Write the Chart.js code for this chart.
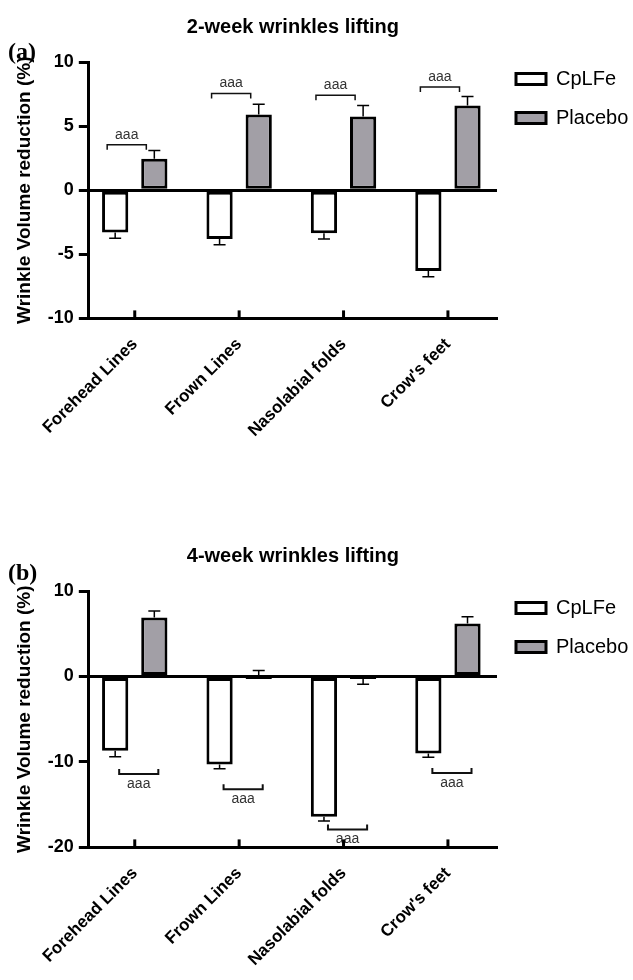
<!DOCTYPE html>
<html>
<head>
<meta charset="utf-8">
<script src="https://cdn.jsdelivr.net/npm/chart.js@4.4.1/dist/chart.umd.min.js"></script>
<style>
  body { margin: 0; background: #fff; }
  #wrap { position: relative; width: 633px; height: 980px; overflow: hidden; }
  .box { position: absolute; left: 0; width: 633px; height: 451px; }
  .tag { position: absolute; left: 8px; font: bold 24px "Liberation Serif", serif; line-height: 24px; color: #000; }
</style>
</head>
<body>
<div id="wrap">
  <div class="box" style="top:0"><canvas id="chartA"></canvas></div>
  <div class="tag" style="top:39px">(a)</div>
  <div class="box" style="top:529px"><canvas id="chartB"></canvas></div>
  <div class="tag" style="top:560px">(b)</div>
</div>
<script>
var categories = ['Forehead Lines', 'Frown Lines', 'Nasolabial folds', "Crow's feet"];
var seriesNames = ['CpLFe', 'Placebo'];

// 2-week (errors are signed: direction the error bar is drawn)
var cplfe2 = [-3.3, -3.8, -3.35, -6.3];
var cplfe2Err = [-0.45, -0.45, -0.45, -0.45];
var placebo2 = [2.45, 5.9, 5.75, 6.6];
var placebo2Err = [0.65, 0.8, 0.85, 0.7];
var sig2Labels = ['aaa', 'aaa', 'aaa', 'aaa'];
var sig2Levels = [3.55, 7.55, 7.4, 8.05];
var ticks2 = [-10, -5, 0, 5, 10];

// 4-week
var cplfe4 = [-8.7, -10.3, -16.4, -9.0];
var cplfe4Err = [-0.7, -0.5, -0.5, -0.45];
var placebo4 = [6.9, -0.3, -0.3, 6.2];
var placebo4Err = [0.75, 1.0, -0.6, 0.8];
var sig4Labels = ['aaa', 'aaa', 'aaa', 'aaa'];
var sig4Levels = [-11.4, -13.2, -17.9, -11.3];
var ticks4 = [-20, -10, 0, 10];

function points(values) {
  return values.map(function(v, i) { return { x: i, y: v }; });
}

var errorBars = {
  id: 'errorBars',
  afterDatasetsDraw: function(chart) {
    var ctx = chart.ctx;
    var y = chart.scales.y;
    ctx.save();
    ctx.strokeStyle = '#000';
    ctx.lineWidth = 1.5;
    chart.data.datasets.forEach(function(ds, di) {
      chart.getDatasetMeta(di).data.forEach(function(bar, i) {
        var v = ds.data[i].y;
        var y0 = y.getPixelForValue(v);
        var y1 = y.getPixelForValue(v + ds.errors[i]);
        ctx.beginPath();
        ctx.moveTo(bar.x, y0);
        ctx.lineTo(bar.x, y1);
        ctx.moveTo(bar.x - 6, y1);
        ctx.lineTo(bar.x + 6, y1);
        ctx.stroke();
      });
    });
    ctx.restore();
  }
};

var brackets = {
  id: 'brackets',
  afterDatasetsDraw: function(chart, args, opts) {
    var ctx = chart.ctx;
    var y = chart.scales.y;
    var a = chart.getDatasetMeta(0).data;
    var b = chart.getDatasetMeta(1).data;
    ctx.save();
    ctx.strokeStyle = '#111';
    ctx.lineWidth = opts.lineWidth;
    ctx.fillStyle = '#333';
    ctx.font = '14px "Liberation Sans", Arial, sans-serif';
    ctx.textAlign = 'center';
    ctx.textBaseline = 'middle';
    opts.levels.forEach(function(level, i) {
      var x0 = a[i].x + opts.shift;
      var x1 = b[i].x + opts.shift;
      var py = y.getPixelForValue(level);
      var dir = level > 0 ? 1 : -1;
      ctx.beginPath();
      ctx.moveTo(x0, py + 5 * dir);
      ctx.lineTo(x0, py);
      ctx.lineTo(x1, py);
      ctx.lineTo(x1, py + 5 * dir);
      ctx.stroke();
      ctx.fillText(opts.labels[i], (x0 + x1) / 2, py - 10 * dir);
    });
    ctx.restore();
  }
};

var innerTicks = {
  id: 'innerTicks',
  afterDraw: function(chart) {
    var ctx = chart.ctx;
    var x = chart.scales.x;
    var bottom = chart.chartArea.bottom;
    ctx.save();
    ctx.strokeStyle = '#000';
    ctx.lineWidth = 3;
    categories.forEach(function(c, i) {
      var px = x.getPixelForValue(i);
      ctx.beginPath();
      ctx.moveTo(px, bottom);
      ctx.lineTo(px, bottom - 8);
      ctx.stroke();
    });
    ctx.restore();
  }
};

function drawChart(id, title, cplfe, cplfeErr, placebo, placeboErr, yTicks, sigLabels, sigLevels, shift, bracketWidth) {
  var ctx = document.getElementById(id);
  return new Chart(ctx, {
    type: 'bar',
    data: {
      datasets: [{
        label: seriesNames[0],
        data: points(cplfe),
        errors: cplfeErr,
        backgroundColor: '#ffffff',
        borderColor: '#000',
        borderWidth: 3,
        borderSkipped: false
      }, {
        label: seriesNames[1],
        data: points(placebo),
        errors: placeboErr,
        backgroundColor: '#a29fa6',
        borderColor: '#000',
        borderWidth: 3,
        borderSkipped: false
      }]
    },
    options: {
      responsive: true,
      maintainAspectRatio: false,
      animation: false,
      devicePixelRatio: 1,
      categoryPercentage: 0.75,
      barPercentage: 0.67,
      layout: { padding: { bottom: 2 } },
      scales: {
        x: {
          type: 'linear',
          offset: false,
          min: -0.44,
          max: 3.47,
          afterBuildTicks: function(scale) {
            scale.ticks = categories.map(function(c, i) { return { value: i }; });
          },
          grid: { display: false },
          border: { color: '#000', width: 3 },
          ticks: {
            color: '#000',
            maxRotation: 45,
            minRotation: 45,
            padding: 8,
            autoSkip: false,
            callback: function(v) { return categories[v]; },
            font: { family: '"Liberation Sans", Arial, sans-serif', size: 17, weight: 'bold' }
          }
        },
        y: {
          min: yTicks[0],
          max: yTicks[yTicks.length - 1],
          afterBuildTicks: function(scale) {
            scale.ticks = yTicks.map(function(v) { return { value: v }; });
          },
          grid: {
            color: function(c) { return c.tick && c.tick.value === 0 ? '#000' : 'rgba(0,0,0,0)'; },
            tickColor: '#000',
            lineWidth: 3,
            tickLength: 10
          },
          border: { color: '#000', width: 3 },
          ticks: {
            color: '#000',
            padding: 5,
            font: { family: '"Liberation Sans", Arial, sans-serif', size: 18, weight: 'bold' }
          },
          title: {
            display: true,
            text: 'Wrinkle Volume reduction (%)',
            color: '#000',
            padding: { top: 13, bottom: 7 },
            font: { family: '"Liberation Sans", Arial, sans-serif', size: 19, weight: 'bold' }
          }
        }
      },
      plugins: {
        title: {
          display: true,
          text: title,
          fullSize: false,
          color: '#000',
          padding: { top: 15, bottom: 23 },
          font: { family: '"Liberation Sans", Arial, sans-serif', size: 20, weight: 'bold' }
        },
        legend: {
          position: 'right',
          align: 'start',
          maxWidth: 136,
          title: { display: true, text: '', font: { size: 10 }, padding: { top: 38, bottom: 0 } },
          labels: {
            boxWidth: 30,
            boxHeight: 11,
            padding: 19,
            color: '#000',
            font: { family: '"Liberation Sans", Arial, sans-serif', size: 20 }
          }
        },
        tooltip: { enabled: false },
        brackets: { labels: sigLabels, levels: sigLevels, shift: shift, lineWidth: bracketWidth }
      }
    },
    plugins: [errorBars, brackets, innerTicks]
  });
}

drawChart('chartA', '2-week wrinkles lifting', cplfe2, cplfe2Err, placebo2, placebo2Err, ticks2, sig2Labels, sig2Levels, -8, 1.5);
drawChart('chartB', '4-week wrinkles lifting', cplfe4, cplfe4Err, placebo4, placebo4Err, ticks4, sig4Labels, sig4Levels, 4, 2);
</script>
</body>
</html>
